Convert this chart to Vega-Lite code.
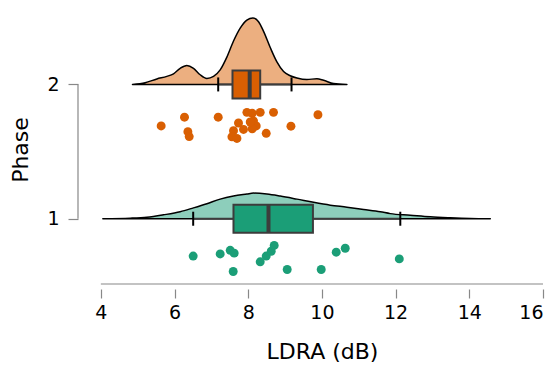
{
  "$schema": "https://vega.github.io/schema/vega-lite/v6.json",
  "width": 465,
  "height": 279,
  "autosize": {"type": "none"},
  "padding": {"left": 78, "top": 10, "right": 12, "bottom": 76},
  "background": "white",
  "config": {
    "view": {"stroke": null},
    "font": "DejaVu Sans",
    "axis": {"grid": false, "labelColor": "black", "titleColor": "black", "titleFontWeight": "normal", "tickColor": "#888", "tickWidth": 1.2}
  },
  "datasets": {
    "dens": [
      {"phase": 2, "ldra": 4.859, "top": 2.000},
      {"phase": 2, "ldra": 5.203, "top": 2.012},
      {"phase": 2, "ldra": 5.520, "top": 2.041},
      {"phase": 2, "ldra": 5.791, "top": 2.060},
      {"phase": 2, "ldra": 5.972, "top": 2.079},
      {"phase": 2, "ldra": 6.153, "top": 2.120},
      {"phase": 2, "ldra": 6.334, "top": 2.141},
      {"phase": 2, "ldra": 6.515, "top": 2.120},
      {"phase": 2, "ldra": 6.696, "top": 2.072},
      {"phase": 2, "ldra": 6.877, "top": 2.045},
      {"phase": 2, "ldra": 7.058, "top": 2.060},
      {"phase": 2, "ldra": 7.239, "top": 2.108},
      {"phase": 2, "ldra": 7.420, "top": 2.203},
      {"phase": 2, "ldra": 7.601, "top": 2.323},
      {"phase": 2, "ldra": 7.782, "top": 2.419},
      {"phase": 2, "ldra": 7.963, "top": 2.479},
      {"phase": 2, "ldra": 8.126, "top": 2.495},
      {"phase": 2, "ldra": 8.280, "top": 2.467},
      {"phase": 2, "ldra": 8.416, "top": 2.395},
      {"phase": 2, "ldra": 8.597, "top": 2.275},
      {"phase": 2, "ldra": 8.778, "top": 2.168},
      {"phase": 2, "ldra": 8.959, "top": 2.096},
      {"phase": 2, "ldra": 9.140, "top": 2.065},
      {"phase": 2, "ldra": 9.321, "top": 2.048},
      {"phase": 2, "ldra": 9.592, "top": 2.036},
      {"phase": 2, "ldra": 9.864, "top": 2.043},
      {"phase": 2, "ldra": 10.045, "top": 2.031},
      {"phase": 2, "ldra": 10.316, "top": 2.007},
      {"phase": 2, "ldra": 10.678, "top": 2.000},
      {"phase": 1, "ldra": 4.054, "top": 1.000},
      {"phase": 1, "ldra": 4.796, "top": 1.004},
      {"phase": 1, "ldra": 5.249, "top": 1.011},
      {"phase": 1, "ldra": 5.700, "top": 1.029},
      {"phase": 1, "ldra": 6.153, "top": 1.052},
      {"phase": 1, "ldra": 6.514, "top": 1.081},
      {"phase": 1, "ldra": 6.878, "top": 1.112},
      {"phase": 1, "ldra": 7.239, "top": 1.146},
      {"phase": 1, "ldra": 7.600, "top": 1.169},
      {"phase": 1, "ldra": 7.964, "top": 1.184},
      {"phase": 1, "ldra": 8.143, "top": 1.191},
      {"phase": 1, "ldra": 8.507, "top": 1.184},
      {"phase": 1, "ldra": 8.868, "top": 1.169},
      {"phase": 1, "ldra": 9.322, "top": 1.146},
      {"phase": 1, "ldra": 9.773, "top": 1.122},
      {"phase": 1, "ldra": 10.226, "top": 1.101},
      {"phase": 1, "ldra": 10.679, "top": 1.086},
      {"phase": 1, "ldra": 11.130, "top": 1.069},
      {"phase": 1, "ldra": 11.584, "top": 1.052},
      {"phase": 1, "ldra": 11.855, "top": 1.038},
      {"phase": 1, "ldra": 12.398, "top": 1.026},
      {"phase": 1, "ldra": 12.941, "top": 1.014},
      {"phase": 1, "ldra": 13.484, "top": 1.007},
      {"phase": 1, "ldra": 14.027, "top": 1.002},
      {"phase": 1, "ldra": 14.570, "top": 1.000}
    ],
    "box": [
      {"phase": 2, "lo": 7.185, "q1": 7.573, "med": 8.04, "q3": 8.325, "hi": 9.175},
      {"phase": 1, "lo": 6.506, "q1": 7.6, "med": 8.55, "q3": 9.756, "hi": 12.127}
    ],
    "pts": [
      {"phase": 2, "ldra": 5.637, "pos": 1.691},
      {"phase": 2, "ldra": 6.270, "pos": 1.756},
      {"phase": 2, "ldra": 6.362, "pos": 1.648},
      {"phase": 2, "ldra": 6.398, "pos": 1.612},
      {"phase": 2, "ldra": 7.185, "pos": 1.756},
      {"phase": 2, "ldra": 7.964, "pos": 1.792},
      {"phase": 2, "ldra": 8.108, "pos": 1.785},
      {"phase": 2, "ldra": 8.325, "pos": 1.792},
      {"phase": 2, "ldra": 8.686, "pos": 1.792},
      {"phase": 2, "ldra": 9.892, "pos": 1.774},
      {"phase": 2, "ldra": 9.159, "pos": 1.689},
      {"phase": 2, "ldra": 8.488, "pos": 1.636},
      {"phase": 2, "ldra": 7.736, "pos": 1.713},
      {"phase": 2, "ldra": 8.143, "pos": 1.729},
      {"phase": 2, "ldra": 8.217, "pos": 1.691},
      {"phase": 2, "ldra": 8.108, "pos": 1.670},
      {"phase": 2, "ldra": 7.872, "pos": 1.665},
      {"phase": 2, "ldra": 7.600, "pos": 1.655},
      {"phase": 2, "ldra": 7.557, "pos": 1.610},
      {"phase": 2, "ldra": 7.693, "pos": 1.598},
      {"phase": 2, "ldra": 8.054, "pos": 1.720},
      {"phase": 1, "ldra": 6.506, "pos": 0.722},
      {"phase": 1, "ldra": 7.239, "pos": 0.738},
      {"phase": 1, "ldra": 7.511, "pos": 0.765},
      {"phase": 1, "ldra": 7.619, "pos": 0.744},
      {"phase": 1, "ldra": 7.592, "pos": 0.607},
      {"phase": 1, "ldra": 8.325, "pos": 0.679},
      {"phase": 1, "ldra": 8.488, "pos": 0.722},
      {"phase": 1, "ldra": 8.624, "pos": 0.758},
      {"phase": 1, "ldra": 8.705, "pos": 0.801},
      {"phase": 1, "ldra": 9.058, "pos": 0.622},
      {"phase": 1, "ldra": 9.981, "pos": 0.622},
      {"phase": 1, "ldra": 10.388, "pos": 0.751},
      {"phase": 1, "ldra": 10.633, "pos": 0.780},
      {"phase": 1, "ldra": 12.100, "pos": 0.701}
    ]
  },
  "layer": [
    {
      "data": {"name": "dens"},
      "mark": {"type": "area", "stroke": "black", "strokeWidth": 1.5, "strokeJoin": "round", "interpolate": "monotone"},
      "encoding": {
        "x": {"field": "ldra", "type": "quantitative", "scale": {"domain": [3.38, 16], "nice": false, "zero": false},
          "axis": {"values": [4, 6, 8, 10, 12, 14, 16], "domain": false, "tickSize": 9, "labelPadding": 5, "labelFontSize": 19, "titleFontSize": 22, "titlePadding": 19, "titleX": 244, "title": "LDRA (dB)"}},
        "y": {"field": "top", "type": "quantitative", "scale": {"domain": [0.514, 2.517], "nice": false, "zero": false},
          "axis": {"values": [1, 2], "format": "d", "domain": false, "tickSize": 10, "labelPadding": 9, "labelFontSize": 19, "titleFontSize": 22, "titlePadding": 14, "title": "Phase"}},
        "y2": {"field": "phase"},
        "detail": {"field": "phase"},
        "fill": {"condition": {"test": "datum.phase == 2", "value": "#ECAF80"}, "value": "#8DCEBB"}
      }
    },
    {
      "data": {"name": "box"},
      "mark": {"type": "rule", "color": "#3c3c3c", "strokeWidth": 2},
      "encoding": {"x": {"field": "lo", "type": "quantitative"}, "x2": {"field": "q1"}, "y": {"field": "phase", "type": "quantitative"}}
    },
    {
      "data": {"name": "box"},
      "mark": {"type": "rule", "color": "#3c3c3c", "strokeWidth": 2},
      "encoding": {"x": {"field": "q3", "type": "quantitative"}, "x2": {"field": "hi"}, "y": {"field": "phase", "type": "quantitative"}}
    },
    {
      "data": {"name": "box"},
      "mark": {"type": "bar", "size": 28, "stroke": "#3c3c3c", "strokeWidth": 2},
      "encoding": {
        "x": {"field": "q1", "type": "quantitative"}, "x2": {"field": "q3"},
        "y": {"field": "phase", "type": "quantitative"},
        "fill": {"condition": {"test": "datum.phase == 2", "value": "#D95F02"}, "value": "#1B9E77"}
      }
    },
    {
      "data": {"name": "box"},
      "mark": {"type": "tick", "orient": "vertical", "size": 28, "thickness": 4, "color": "#3c3c3c", "opacity": 1},
      "encoding": {"x": {"field": "med", "type": "quantitative"}, "y": {"field": "phase", "type": "quantitative"}}
    },
    {
      "data": {"name": "box"},
      "mark": {"type": "tick", "orient": "vertical", "size": 14, "thickness": 2, "color": "black", "opacity": 1},
      "encoding": {"x": {"field": "lo", "type": "quantitative"}, "y": {"field": "phase", "type": "quantitative"}}
    },
    {
      "data": {"name": "box"},
      "mark": {"type": "tick", "orient": "vertical", "size": 14, "thickness": 2, "color": "black", "opacity": 1},
      "encoding": {"x": {"field": "hi", "type": "quantitative"}, "y": {"field": "phase", "type": "quantitative"}}
    },
    {
      "data": {"name": "pts"},
      "mark": {"type": "circle", "size": 80, "opacity": 1},
      "encoding": {
        "x": {"field": "ldra", "type": "quantitative"},
        "y": {"field": "pos", "type": "quantitative"},
        "fill": {"condition": {"test": "datum.phase == 2", "value": "#D95F02"}, "value": "#1B9E77"}
      }
    },
    {
      "data": {"values": [{}]},
      "mark": {"type": "rule", "color": "#888", "strokeWidth": 1.2},
      "encoding": {"x": {"datum": 4, "type": "quantitative"}, "x2": {"datum": 16}, "y": {"datum": 0.514, "type": "quantitative"}}
    },
    {
      "data": {"values": [{}]},
      "mark": {"type": "rule", "color": "#888", "strokeWidth": 1.2},
      "encoding": {"x": {"datum": 3.38, "type": "quantitative"}, "y": {"datum": 1, "type": "quantitative"}, "y2": {"datum": 2}}
    }
  ]
}
